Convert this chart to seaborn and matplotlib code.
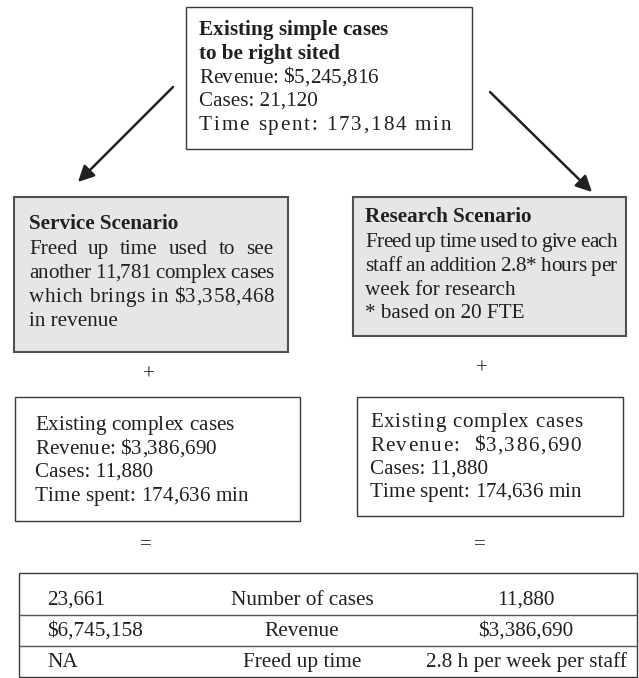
import matplotlib
matplotlib.use("Agg")
import matplotlib.pyplot as plt
from matplotlib.patches import Rectangle
from matplotlib.font_manager import FontProperties, findfont, get_font
import seaborn as sns

# ---- content ----
top_title = ["Existing simple cases", "to be right sited"]
top_lines = ["Revenue: $5,245,816", "Cases: 21,120", "Time spent: 173,184 min"]

service_title = "Service Scenario"
service_lines = ["Freed up time used to see", "another 11,781 complex cases",
                 "which brings in $3,358,468", "in revenue"]

research_title = "Research Scenario"
research_lines = ["Freed up time used to give each", "staff an addition 2.8* hours per",
                  "week for research", "* based on 20 FTE"]

complex_lines = ["Existing complex cases", "Revenue:  $3,386,690",
                 "Cases: 11,880", "Time spent: 174,636 min"]

table_service = ["23,661", "$6,745,158", "NA"]
table_measure = ["Number of cases", "Revenue", "Freed up time"]
table_research = ["11,880", "$3,386,690", "2.8 h per week per staff"]

INK = "#231f20"
EDGE = "#3a3a3a"
GRAY = "#e6e6e7"
FAMILY = 'Liberation Serif'
FS = 15.2

sns.set_theme(style="white")
plt.rcParams['font.family'] = [FAMILY, 'DejaVu Serif']

W, H = 639, 678
fig = plt.figure(figsize=(W / 100, H / 100), dpi=100)
ax = fig.add_axes([0, 0, 1, 1])
ax.set_xlim(0, W)
ax.set_ylim(H, 0)
ax.axis('off')
renderer = fig.canvas.get_renderer()


def advances(s, size, bold):
    fp = FontProperties(family=FAMILY, weight='bold' if bold else 'normal')
    f = get_font(findfont(fp))
    f.set_size(size, 100)
    return [f.load_char(ord(c)).linearHoriAdvance / 65536 for c in s]


def line(x, y, s, size=FS, bold=False, width=None, mode='track'):
    # one text line; optionally stretched to a target width
    kw = dict(fontsize=size, color=INK, va='baseline', ha='left',
              fontweight='bold' if bold else 'normal')
    if width is None:
        ax.text(x, y, s, **kw)
        return
    if mode == 'justify':
        words = s.split(" ")
        arts = [ax.text(x, y, w, **kw) for w in words]
        ws = [a.get_window_extent(renderer).width for a in arts]
        gap = (width - sum(ws)) / (len(words) - 1)
        cx = x
        for a, w in zip(arts, ws):
            a.set_x(cx)
            cx += w + gap
        return
    adv = advances(s, size, bold)
    natural = sum(adv[:-1]) + adv[-1] * 0.9
    track = (width - natural) / (len(s) - 1)
    cx = x
    for c, a in zip(s, adv):
        if c != " ":
            ax.text(cx, y, c, **kw)
        cx += a + track


def box(x0, y0, x1, y1, fill="white", lw=1.0, ec=EDGE):
    ax.add_patch(Rectangle((x0, y0), x1 - x0, y1 - y0, facecolor=fill,
                           edgecolor=ec, lw=lw))


# top box
box(186, 7, 472, 149)
line(199, 35, top_title[0], bold=True, width=188)
line(199, 59, top_title[1], bold=True)
line(199, 83, top_lines[0], width=178)
line(199, 106, top_lines[1])
line(199, 130, top_lines[2], width=251)

# arrows
arrow = dict(arrowstyle='-|>', lw=1.8, color=INK, mutation_scale=24,
             shrinkA=0, shrinkB=0)
ax.annotate("", xy=(78, 182), xytext=(173, 87), arrowprops=arrow)
ax.annotate("", xy=(592, 192), xytext=(490, 92), arrowprops=arrow)

# scenario boxes
box(14, 197, 288, 352, fill=GRAY, lw=1.5, ec="#505050")
line(29, 229, service_title, bold=True)
line(29, 254, service_lines[0], width=244, mode='justify')
line(29, 278, service_lines[1], width=244)
line(29, 302, service_lines[2], width=244)
line(29, 326, service_lines[3])

box(353, 197, 626, 336, fill=GRAY, lw=1.5, ec="#505050")
line(365, 222, research_title, bold=True)
line(365, 247, research_lines[0], width=251)
line(365, 271, research_lines[1], width=251)
line(365, 295, research_lines[2])
line(365, 318, research_lines[3])

# plus signs
ax.text(149, 375, "+", fontsize=15, color=INK, ha='center', va='center')
ax.text(482, 369, "+", fontsize=15, color=INK, ha='center', va='center')

# existing complex boxes
box(15, 397, 300, 521)
line(35, 430, complex_lines[0], width=198)
line(35, 454, complex_lines[1].replace("  ", " "), width=180)
line(35, 477, complex_lines[2])
line(35, 501, complex_lines[3], width=212)

box(357, 397, 623, 516)
line(370, 427, complex_lines[0], width=212)
line(370, 451, complex_lines[1], width=210)
line(370, 474, complex_lines[2])
line(370, 497, complex_lines[3], width=210)

# equals signs
ax.text(146, 545, "=", fontsize=15, color=INK, ha='center', va='center')
ax.text(480, 545, "=", fontsize=15, color=INK, ha='center', va='center')

# summary table
row_edges = [573, 615, 646, 677]
ax.add_patch(Rectangle((19, 573), 637 - 19, 677 - 573, facecolor='white',
                       edgecolor=EDGE, lw=1.0))
for yl in row_edges[1:-1]:
    ax.plot([19, 637], [yl, yl], color="#555555", lw=1.0)
for i in range(3):
    yb = row_edges[i + 1] - 10
    ax.text(47, yb, table_service[i], fontsize=15.3, color=INK, va='baseline', ha='left')
    ax.text(302, yb, table_measure[i], fontsize=15.3, color=INK, va='baseline', ha='center')
    ax.text(526, yb, table_research[i], fontsize=15.3, color=INK, va='baseline', ha='center')

fig.savefig("out.png", dpi=100)
